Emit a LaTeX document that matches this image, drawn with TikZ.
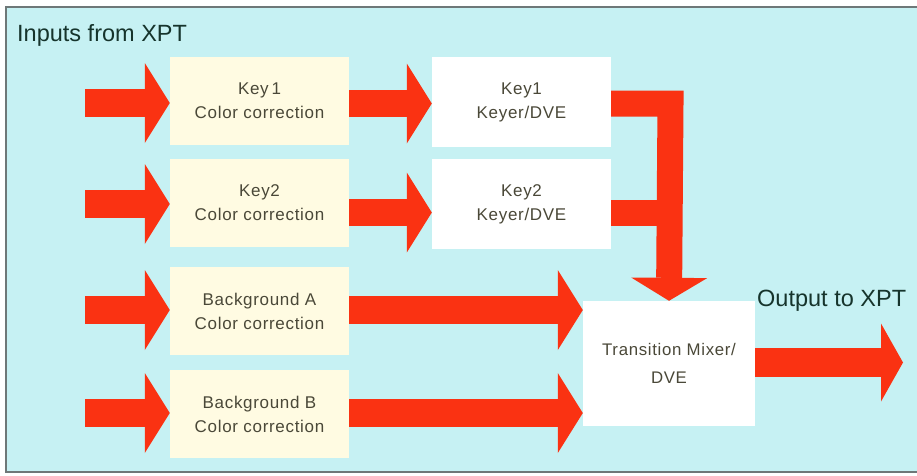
\documentclass[tikz,border=0pt]{standalone}
\usepackage{fontspec}
\setmainfont{Liberation Sans}
\newfontfamily\boxfont[LetterSpace=4]{Liberation Sans}
\usetikzlibrary{arrows.meta}
\definecolor{bgcyan}{RGB}{198,241,243}
\definecolor{cream}{RGB}{255,251,226}
\definecolor{arrowred}{RGB}{250,50,18}
\definecolor{boxtext}{RGB}{74,72,56}
\definecolor{titletext}{RGB}{22,52,44}
\definecolor{framegray}{RGB}{110,120,120}
\begin{document}
\begin{tikzpicture}[x=1pt,y=-1pt,
  ccbox/.style={fill=cream, minimum width=179pt, minimum height=88pt, inner sep=0pt, align=center, font=\boxfont\fontsize{17}{24}\selectfont, text=boxtext},
  keybox/.style={ccbox, fill=white, minimum height=90pt},
  mixbox/.style={ccbox, fill=white, minimum width=172pt, minimum height=125pt, font=\boxfont\fontsize{16.8}{28}\selectfont},
  labeltext/.style={anchor=west, inner sep=0pt, text=titletext, font=\fontsize{23.5}{26}\selectfont},
  blockarrow/.style={draw=arrowred, line width=28pt, line join=miter, -{Triangle[width=80pt,length=25pt,line width=0pt]}},
  blockshaft/.style={draw=arrowred, line width=26pt, line join=miter}
]
\useasboundingbox (0,0) rectangle (917,475);
\fill[bgcyan] (6,7) rectangle (917,472);
\draw[framegray, line width=1.2pt] (917,7) -- (6,7) -- (6,472) -- (917,472);

\node[labeltext] (title) at (17,35) {Inputs from XPT};
\node[labeltext] (outlabel) at (757,301) {Output to XPT};

\node[ccbox] (cc1) at (259.5,101) {Key\,1\\Color correction};
\node[ccbox] (cc2) at (259.5,203) {Key2\\Color correction};
\node[ccbox] (cc3) at (259.5,311) {Background A\\Color correction};
\node[ccbox] (cc4) at (259.5,414) {Background B\\Color correction};
\node[keybox] (k1) at (521.5,102) {Key1\\Keyer/DVE};
\node[keybox] (k2) at (521.5,204) {Key2\\Keyer/DVE};
\node[mixbox] (mix) at (669,363.5) {Transition Mixer/\\DVE};

\coordinate (in1) at (85,103);
\coordinate (in2) at (85,204);
\coordinate (in3) at (85,310);
\coordinate (in4) at (85,413);
\coordinate (out) at (903,362.5);
\coordinate (bend) at (670.5,103.5);
\coordinate (join) at (670.5,212.5);

\draw[blockarrow] (in1) -- (cc1.west |- in1);
\draw[blockarrow] (in2) -- (cc2.west |- in2);
\draw[blockarrow] (in3) -- (cc3.west |- in3);
\draw[blockarrow] (in4) -- (cc4.west |- in4);

\draw[blockarrow, line width=27pt] (cc1.east |- bend) -- (k1.west |- bend);
\draw[blockarrow, line width=27pt] (cc2.east |- join) -- (k2.west |- join);

\draw[blockarrow] (cc3.east |- in3) -- (mix.west |- in3);
\draw[blockarrow] (cc4.east |- in4) -- (mix.west |- in4);

\draw[blockshaft] (k2.east |- join) -- (join);
\draw[blockarrow, line width=26pt, -{Triangle[width=76pt,length=23pt,line width=0pt]}] (k1.east |- bend) -- (bend) -- (mix.north);

\draw[blockarrow, line width=29pt, -{Triangle[width=78pt,length=22pt,line width=0pt]}] (mix.east |- out) -- (out);
\end{tikzpicture}
\end{document}
